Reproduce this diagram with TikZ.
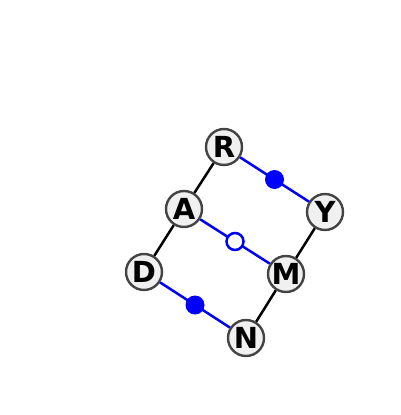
\documentclass[tikz,border=0pt]{standalone}
\usepackage{fontspec}
\setmainfont{DejaVu Sans}
\usepackage{tikz}
\usetikzlibrary{calc}
\definecolor{resfill}{HTML}{F0F0F0}
\definecolor{resline}{HTML}{444444}
\definecolor{bondblue}{HTML}{0000FF}

\begin{document}
\begin{tikzpicture}[
  x=1pt, y=-1pt,
  res/.style={circle, draw=resline, fill=resfill, line width=2.4pt, minimum size=36pt, inner sep=0pt, font=\fontsize{29}{29}\selectfont\bfseries},
  chain/.style={line width=2.5pt, black},
  bond/.style={line width=2.5pt, bondblue},
  fulldot/.style={circle, fill=bondblue, minimum size=19pt, inner sep=0pt},
  opendot/.style={circle, draw=bondblue, fill=white, line width=2.5pt, minimum size=17pt, inner sep=0pt}
]
\useasboundingbox (0,0) rectangle (400,415);

% Residues
\node[res] (R) at (224,147) {R};
\node[res] (Y) at (325,212) {Y};
\node[res] (A) at (184,209) {A};
\node[res] (M) at (286,274) {M};
\node[res] (D) at (144,272) {D};
\node[res] (N) at (246,338) {N};

% Backbone and bonds
\draw[chain] (R) -- (A);
\draw[chain] (A) -- (D);
\draw[chain] (Y) -- (M);
\draw[chain] (M) -- (N);
\draw[bond] (R) -- (Y);
\draw[bond] (A) -- (M);
\draw[bond] (D) -- (N);

% Bond markers
\node[fulldot] (bRY) at ($(R)!0.5!(Y)$) {};
\node[opendot] (bAM) at ($(A)!0.5!(M)$) {};
\node[fulldot] (bDN) at ($(D)!0.5!(N)$) {};

\end{tikzpicture}
\end{document}
